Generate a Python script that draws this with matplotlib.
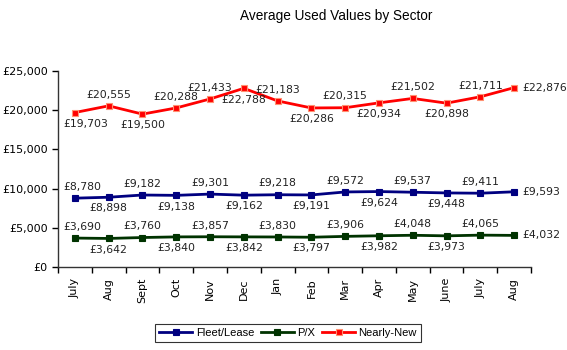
import matplotlib
matplotlib.use("Agg")
import matplotlib.pyplot as plt
from matplotlib.ticker import FuncFormatter, FixedLocator
import numpy as np

months = ["July", "Aug", "Sept", "Oct", "Nov", "Dec", "Jan", "Feb", "Mar", "Apr", "May", "June", "July", "Aug"]
fleet = [8780, 8898, 9182, 9138, 9301, 9162, 9218, 9191, 9572, 9624, 9537, 9448, 9411, 9593]
px = [3690, 3642, 3760, 3840, 3857, 3842, 3830, 3797, 3906, 3982, 4048, 3973, 4065, 4032]
nearly = [19703, 20555, 19500, 20288, 21433, 22788, 21183, 20286, 20315, 20934, 21502, 20898, 21711, 22876]

# label placement: 'a' above, 'b' below, 'r' right
fleet_pos = ["a", "b", "a", "b", "a", "b", "a", "b", "a", "b", "a", "b", "a", "r"]
px_pos = ["a", "b", "a", "b", "a", "b", "a", "b", "a", "b", "a", "b", "a", "r"]
nearly_pos = ["b", "a", "b", "a", "a", "b", "a", "b", "a", "b", "a", "b", "a", "r"]

W, H = 567, 350
fig = plt.figure(figsize=(W / 100, H / 100), dpi=100)
ax = fig.add_axes([58 / W, 1 - 267 / H, (531 - 58) / W, (267 - 71) / H])

x = np.arange(len(months))
series = [
    ("Fleet/Lease", fleet, "#000080", "#000080", fleet_pos),
    ("P/X", px, "#003300", "#003300", px_pos),
    ("Nearly-New", nearly, "#FF0000", "#FF9070", nearly_pos),
]
FS = 7.8
for name, vals, col, edge, pos in series:
    ax.plot(x, vals, color=col, lw=2, marker="s", ms=5, mfc=col, mec=edge, mew=0.8, label=name)
    for xi, v, p in zip(x, vals, pos):
        txt = f"£{v:,}"
        dx, ha = (0, "center")
        if xi == 0:
            dx, ha = (-8.5, "left")
        if p == "a":
            ax.annotate(txt, (xi, v), xytext=(dx, 4.5), textcoords="offset points",
                        ha=ha, va="bottom", fontsize=FS, color="#222222")
        elif p == "b":
            ax.annotate(txt, (xi, v), xytext=(dx, -4.5), textcoords="offset points",
                        ha=ha, va="top", fontsize=FS, color="#222222")
        else:
            ax.annotate(txt, (xi, v), xytext=(6, 0), textcoords="offset points",
                        ha="left", va="center", fontsize=FS, color="#222222")

ax.set_xlim(-0.5, len(months) - 0.5)
ax.set_ylim(0, 25000)
ax.set_yticks(np.arange(0, 25001, 5000))
ax.yaxis.set_major_formatter(FuncFormatter(lambda v, p: f"£{int(v):,}"))
ax.set_xticks(x)
ax.set_xticklabels(months, rotation=90, fontsize=8)
ax.xaxis.set_minor_locator(FixedLocator(np.arange(-0.5, len(months), 1.0)))
ax.tick_params(axis="x", which="major", length=0, pad=8)
ax.tick_params(axis="x", which="minor", length=4, width=1, direction="out")
ax.tick_params(axis="y", labelsize=8, length=4, width=1, direction="out")
for s in ["top", "right"]:
    ax.spines[s].set_visible(False)
for s in ["left", "bottom"]:
    ax.spines[s].set_color("#333333")
    ax.spines[s].set_linewidth(1)

fig.text(336 / W, 1 - 16 / H, "Average Used Values by Sector", ha="center", va="center",
         fontsize=9.8, family="Liberation Sans")

leg = fig.legend(loc="center", bbox_to_anchor=(288 / W, 1 - 333 / H), ncol=3,
                 prop={"family": "Liberation Sans", "size": 8}, frameon=True, fancybox=False,
                 handlelength=3, handletextpad=0.3, columnspacing=0.6, borderpad=0.4,
                 markerscale=0.8)
leg.get_frame().set_edgecolor("black")
leg.get_frame().set_linewidth(0.8)

fig.savefig("out.png", dpi=100)
